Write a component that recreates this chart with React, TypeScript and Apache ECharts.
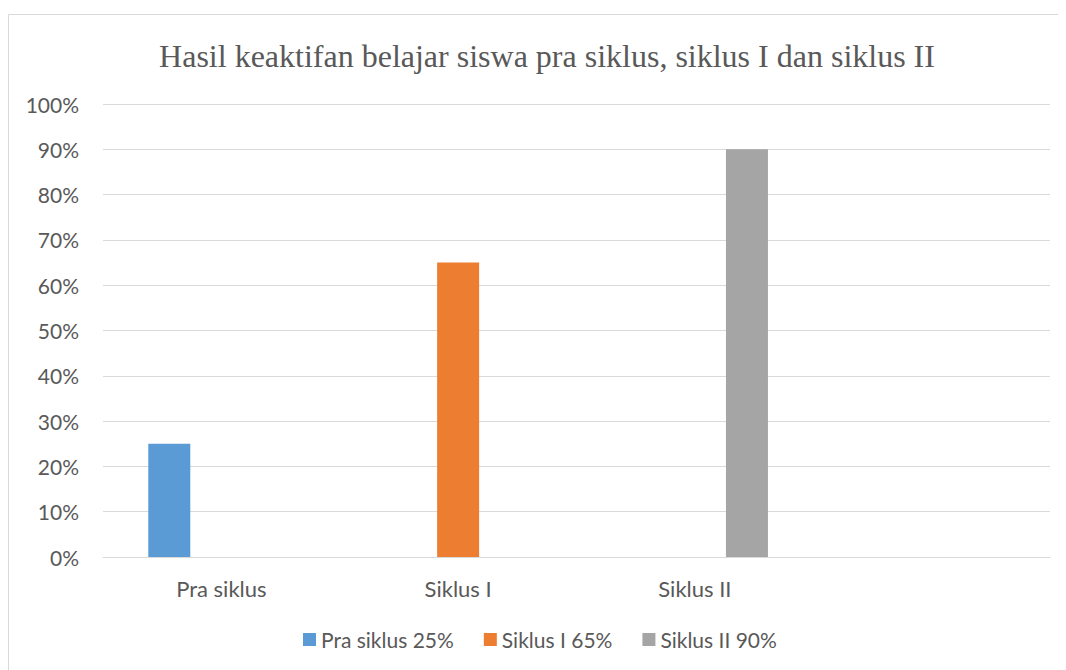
import React, { useEffect, useRef } from "react";
import * as echarts from "echarts";

const categories = ["Pra siklus", "Siklus I", "Siklus II", ""];
const seriesNames = ["Pra siklus 25%", "Siklus I 65%", "Siklus II 90%"];
const praSiklus = [25, null, null, null];
const siklusI = [null, 65, null, null];
const siklusII = [null, null, 90, null];
const colors = ["#5B9BD5", "#ED7D31", "#A5A5A5"];

export default function App() {
  const ref = useRef<HTMLDivElement>(null);
  useEffect(() => {
    if (!ref.current) return;
    const chart = echarts.init(ref.current, undefined, { renderer: "svg" });
    const font = "Lato, 'Open Sans', sans-serif";
    const data = [praSiklus, siklusI, siklusII];
    chart.setOption({
      animation: false,
      backgroundColor: "#ffffff",
      title: {
        text: "Hasil keaktifan belajar siswa pra siklus, siklus I dan siklus II",
        left: 534,
        textAlign: "center",
        top: 27,
        textStyle: {
          fontFamily: "'Liberation Serif', 'Times New Roman', serif",
          fontSize: 32,
          fontWeight: "normal",
          color: "#595959",
        },
      },
      graphic: [
        {
          type: "rect",
          shape: { x: 0.5, y: 6.5, width: 1200, height: 800 },
          style: { fill: "none", stroke: "#d9d9d9", lineWidth: 1 },
          silent: true,
        },
      ],
      legend: {
        bottom: 15,
        left: 290,
        itemWidth: 13,
        itemHeight: 13,
        itemGap: 30,
        icon: "rect",
        textStyle: { fontFamily: font, fontSize: 21, color: "#595959" },
        data: seriesNames,
      },
      grid: { left: 95, right: 16, top: 96, height: 453 },
      xAxis: {
        type: "category",
        data: categories,
        axisLine: { lineStyle: { color: "#d9d9d9" } },
        axisTick: { show: false },
        axisLabel: { fontFamily: font, fontSize: 22, color: "#595959", margin: 20 },
      },
      yAxis: {
        type: "value",
        min: 0,
        max: 100,
        interval: 10,
        axisLine: { show: false },
        axisTick: { show: false },
        splitLine: { lineStyle: { color: "#d9d9d9", width: 1 } },
        axisLabel: {
          formatter: "{value}%",
          fontFamily: font,
          fontSize: 21,
          color: "#595959",
          margin: 24,
        },
      },
      series: seriesNames.map((name, i) => ({
        name,
        type: "bar",
        data: data[i],
        barWidth: 42,
        barGap: "24%",
        itemStyle: { color: colors[i] },
      })),
    });
    return () => chart.dispose();
  }, []);
  return <div ref={ref} style={{ width: 1058, height: 662 }} />;
}
